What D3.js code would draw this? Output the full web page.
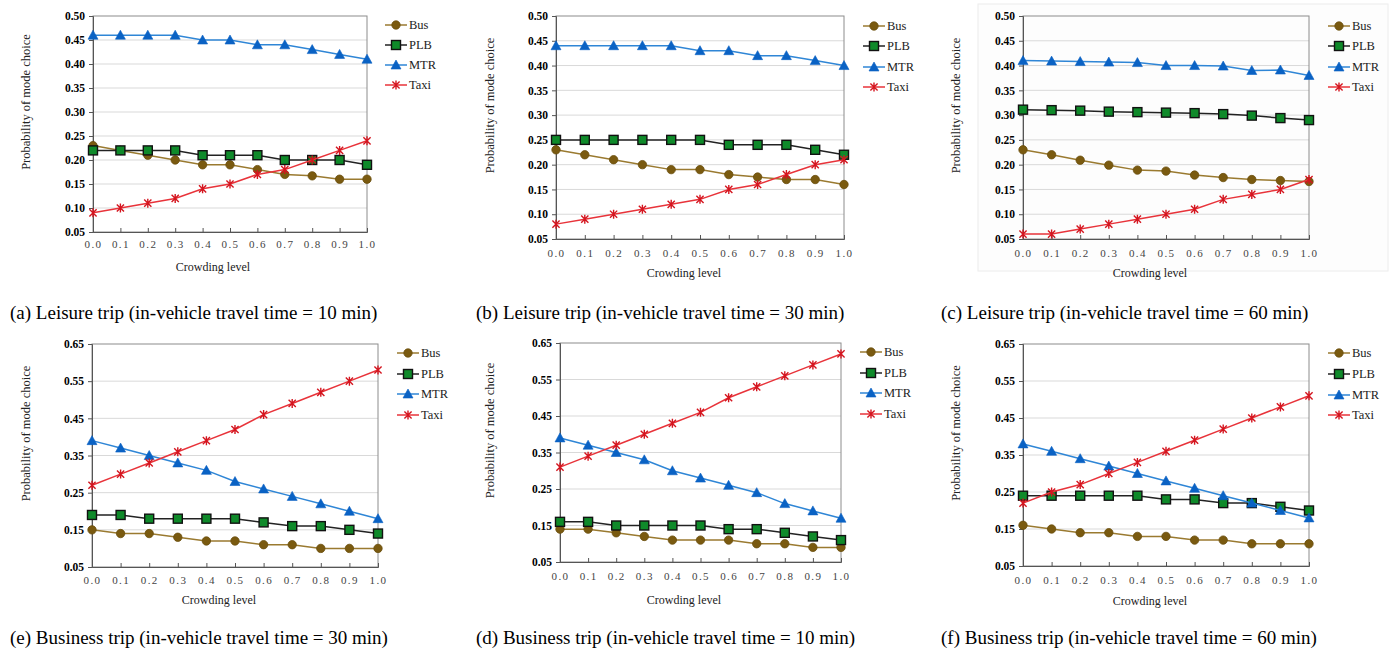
<!DOCTYPE html>
<html lang="en">
<head>
<meta charset="UTF-8" />
<title>Mode choice vs crowding</title>
<style>
  body { margin: 0; background: #fff; }
  svg { display: block; font-family: "Liberation Serif", "Times New Roman", serif; }
  svg text { font-family: "Liberation Serif", "Times New Roman", serif; }
  .grid line { stroke: #d9d9d9; stroke-width: 1px; }
  .frame { fill: none; stroke: #8c8c8c; stroke-width: 1px; }
  .ytick text { font-weight: bold; font-size: 11.5px; fill: #000; }
  .xtick text { font-size: 11px; fill: #444; letter-spacing: 1.4px; }
  .axis path, .axis line { stroke: #555; }
  .ttl { font-size: 12px; fill: #222; }
  .ytl { font-size: 12.5px; fill: #222; }
  .cap { font-size: 19px; fill: #000; }
  .leg { font-size: 12.5px; fill: #222; }
</style>
</head>
<body>
<svg id="chart" width="1392" height="651"></svg>
<script src="https://cdn.jsdelivr.net/npm/d3@7"></script>
<script>
// crowding level
var crowding = [0.0, 0.1, 0.2, 0.3, 0.4, 0.5, 0.6, 0.7, 0.8, 0.9, 1.0];
var modes = ["Bus", "PLB", "MTR", "Taxi"];
var leisureTicks = [0.05, 0.10, 0.15, 0.20, 0.25, 0.30, 0.35, 0.40, 0.45, 0.50];
var businessTicks = [0.05, 0.15, 0.25, 0.35, 0.45, 0.55, 0.65];

// (a) leisure 10 min
var busA  = [0.23, 0.22, 0.21, 0.20, 0.19, 0.19, 0.18, 0.17, 0.167, 0.16, 0.16];
var plbA  = [0.22, 0.22, 0.22, 0.22, 0.21, 0.21, 0.21, 0.20, 0.20, 0.20, 0.19];
var mtrA  = [0.46, 0.46, 0.46, 0.46, 0.45, 0.45, 0.44, 0.44, 0.43, 0.42, 0.41];
var taxiA = [0.09, 0.10, 0.11, 0.12, 0.14, 0.15, 0.17, 0.18, 0.20, 0.22, 0.24];
// (b) leisure 30 min
var busB  = [0.23, 0.22, 0.21, 0.20, 0.19, 0.19, 0.18, 0.175, 0.17, 0.17, 0.16];
var plbB  = [0.25, 0.25, 0.25, 0.25, 0.25, 0.25, 0.24, 0.24, 0.24, 0.23, 0.22];
var mtrB  = [0.44, 0.44, 0.44, 0.44, 0.44, 0.43, 0.43, 0.42, 0.42, 0.41, 0.40];
var taxiB = [0.08, 0.09, 0.10, 0.11, 0.12, 0.13, 0.15, 0.16, 0.18, 0.20, 0.21];
// (c) leisure 60 min
var busC  = [0.23, 0.22, 0.209, 0.199, 0.189, 0.187, 0.179, 0.174, 0.17, 0.168, 0.166];
var plbC  = [0.311, 0.31, 0.309, 0.307, 0.306, 0.305, 0.304, 0.302, 0.299, 0.294, 0.29];
var mtrC  = [0.41, 0.409, 0.408, 0.407, 0.406, 0.40, 0.40, 0.399, 0.39, 0.391, 0.38];
var taxiC = [0.06, 0.06, 0.07, 0.08, 0.09, 0.10, 0.11, 0.13, 0.14, 0.15, 0.17];
// (e) business 30 min
var busE  = [0.15, 0.14, 0.14, 0.13, 0.12, 0.12, 0.11, 0.11, 0.10, 0.10, 0.10];
var plbE  = [0.19, 0.19, 0.18, 0.18, 0.18, 0.18, 0.17, 0.16, 0.16, 0.15, 0.14];
var mtrE  = [0.39, 0.37, 0.35, 0.33, 0.31, 0.28, 0.26, 0.24, 0.22, 0.20, 0.18];
var taxiE = [0.27, 0.30, 0.33, 0.36, 0.39, 0.42, 0.46, 0.49, 0.52, 0.55, 0.58];
// (d) business 10 min
var busD  = [0.14, 0.14, 0.13, 0.12, 0.11, 0.11, 0.11, 0.10, 0.10, 0.09, 0.09];
var plbD  = [0.16, 0.16, 0.15, 0.15, 0.15, 0.15, 0.14, 0.14, 0.13, 0.12, 0.11];
var mtrD  = [0.39, 0.37, 0.35, 0.33, 0.30, 0.28, 0.26, 0.24, 0.21, 0.19, 0.17];
var taxiD = [0.31, 0.34, 0.37, 0.40, 0.43, 0.46, 0.50, 0.53, 0.56, 0.59, 0.62];
// (f) business 60 min
var busF  = [0.16, 0.15, 0.14, 0.14, 0.13, 0.13, 0.12, 0.12, 0.11, 0.11, 0.11];
var plbF  = [0.24, 0.24, 0.24, 0.24, 0.24, 0.23, 0.23, 0.22, 0.22, 0.21, 0.20];
var mtrF  = [0.38, 0.36, 0.34, 0.32, 0.30, 0.28, 0.26, 0.24, 0.22, 0.20, 0.18];
var taxiF = [0.22, 0.25, 0.27, 0.30, 0.33, 0.36, 0.39, 0.42, 0.45, 0.48, 0.51];

var styles = {
  Bus:  { line: "#9a7a30", fill: "#7a5a10", stroke: "#6a4e0c", shape: "circle" },
  PLB:  { line: "#222222", fill: "#0f8a2a", stroke: "#111111", shape: "square" },
  MTR:  { line: "#2f86d6", fill: "#0a62c4", stroke: "#0a62c4", shape: "triangle" },
  Taxi: { line: "#e8333a", fill: "none",    stroke: "#d4151f", shape: "star" }
};

var panels = [
  { series: [busA, plbA, mtrA, taxiA], ticks: leisureTicks, caption: "(a) Leisure trip (in-vehicle travel time = 10 min)",
    l: 93, r: 367, t: 16, b: 232, xt: 244, xl: 267, xc: 213, yx: 26, cx: 10, cy: 312, lg: 385, lgy: [25, 45, 65, 85] },
  { series: [busB, plbB, mtrB, taxiB], ticks: leisureTicks, caption: "(b) Leisure trip (in-vehicle travel time = 30 min)",
    l: 556, r: 844, t: 16, b: 239, xt: 253, xl: 273, xc: 684, yx: 490, cx: 476, cy: 312, lg: 863, lgy: [26, 46, 67, 87] },
  { series: [busC, plbC, mtrC, taxiC], ticks: leisureTicks, caption: "(c) Leisure trip (in-vehicle travel time = 60 min)",
    l: 1023, r: 1309, t: 16, b: 239, xt: 253, xl: 273, xc: 1150, yx: 956, cx: 941, cy: 312, lg: 1328, lgy: [26, 46, 67, 87], box: true },
  { series: [busE, plbE, mtrE, taxiE], ticks: businessTicks, caption: "(e) Business trip (in-vehicle travel time = 30 min)",
    l: 92, r: 378, t: 344, b: 567, xt: 580, xl: 600, xc: 219, yx: 26, cx: 10, cy: 637, lg: 397, lgy: [353, 374, 394, 415] },
  { series: [busD, plbD, mtrD, taxiD], ticks: businessTicks, caption: "(d) Business trip (in-vehicle travel time = 10 min)",
    l: 560, r: 841, t: 343, b: 562, xt: 576, xl: 600, xc: 684, yx: 490, cx: 476, cy: 637, lg: 860, lgy: [352, 373, 393, 414] },
  { series: [busF, plbF, mtrF, taxiF], ticks: businessTicks, caption: "(f) Business trip (in-vehicle travel time = 60 min)",
    l: 1023, r: 1309, t: 344, b: 566, xt: 580, xl: 601, xc: 1150, yx: 956, cx: 941, cy: 637, lg: 1328, lgy: [353, 374, 395, 415] }
];

var svg = d3.select("#chart");

function marker(g, shape, st) {
  if (shape == "circle") {
    g.append("circle").attr("r", 4.2).attr("fill", st.fill).attr("stroke", st.stroke).attr("stroke-width", 0.8);
  } else if (shape == "square") {
    g.append("rect").attr("x", -4.5).attr("y", -4.5).attr("width", 9).attr("height", 9)
     .attr("fill", st.fill).attr("stroke", st.stroke).attr("stroke-width", 1.4);
  } else if (shape == "triangle") {
    g.append("path").attr("d", "M0,-5L5,4L-5,4Z").attr("fill", st.fill).attr("stroke", st.stroke).attr("stroke-width", 0.6);
  } else {
    g.append("path").attr("d", "M-3.6,-3.6L3.6,3.6M-3.6,3.6L3.6,-3.6M0,-4.5L0,4.5")
     .attr("fill", "none").attr("stroke", st.stroke).attr("stroke-width", 1.4);
  }
}

panels.forEach(function(p) {
  var g = svg.append("g");
  var ext = d3.extent(p.ticks);
  var x = d3.scaleLinear().domain([0, 1]).range([p.l, p.r]);
  var y = d3.scaleLinear().domain(ext).range([p.b, p.t]);

  if (p.box) {
    g.append("rect").attr("x", 978).attr("y", 4).attr("width", 410).attr("height", 267)
     .attr("fill", "#fdfdfd").attr("stroke", "#ececec");
  }

  // gridlines
  g.append("g").attr("class", "grid").selectAll("line")
   .data(p.ticks.slice(1, -1)).enter().append("line")
   .attr("x1", p.l).attr("x2", p.r)
   .attr("y1", function(d) { return y(d); }).attr("y2", function(d) { return y(d); });

  g.append("rect").attr("class", "frame")
   .attr("x", p.l).attr("y", p.t).attr("width", p.r - p.l).attr("height", p.b - p.t);

  var yAxis = d3.axisLeft(y).tickValues(p.ticks).tickFormat(d3.format(".2f")).tickSize(4).tickPadding(4);
  var yg = g.append("g").attr("class", "axis ytick").attr("transform", "translate(" + p.l + ",0)").call(yAxis);
  yg.attr("font-family", null).attr("font-size", null);

  var xAxis = d3.axisBottom(x).tickValues(crowding).tickFormat(d3.format(".1f")).tickSize(-4).tickPadding(0);
  var xg = g.append("g").attr("class", "axis xtick").attr("transform", "translate(0," + p.b + ")").call(xAxis);
  xg.attr("font-family", null).attr("font-size", null);
  xg.selectAll("text").attr("y", p.xt - p.b).attr("dy", "0.35em");

  g.append("text").attr("class", "ttl").attr("text-anchor", "middle")
   .attr("x", p.xc).attr("y", p.xl).attr("dy", "0.35em").text("Crowding level");

  g.append("text").attr("class", "ytl").attr("text-anchor", "middle")
   .attr("transform", "translate(" + p.yx + "," + ((p.t + p.b) / 2 - 22) + ")rotate(-90)")
   .attr("dy", "0.35em").text("Probability of mode choice");

  g.append("text").attr("class", "cap").attr("x", p.cx).attr("y", p.cy).attr("dy", "0.35em").text(p.caption);

  var line = d3.line().x(function(d, i) { return x(crowding[i]); }).y(function(d) { return y(d); });

  modes.forEach(function(m, k) {
    var st = styles[m];
    var vals = p.series[k];
    g.append("path").datum(vals).attr("d", line)
     .attr("fill", "none").attr("stroke", st.line).attr("stroke-width", 1.5);
    vals.forEach(function(v, i) {
      var mg = g.append("g").attr("transform", "translate(" + x(crowding[i]) + "," + y(v) + ")");
      marker(mg, st.shape, st);
    });

    // legend
    var ly = p.lgy[k];
    g.append("line").attr("x1", p.lg).attr("x2", p.lg + 22).attr("y1", ly).attr("y2", ly)
     .attr("stroke", st.line).attr("stroke-width", 1.5);
    var lm = g.append("g").attr("transform", "translate(" + (p.lg + 11) + "," + ly + ")");
    marker(lm, st.shape, st);
    g.append("text").attr("class", "leg").attr("x", p.lg + 24).attr("y", ly).attr("dy", "0.35em").text(m);
  });
});
</script>
</body>
</html>
